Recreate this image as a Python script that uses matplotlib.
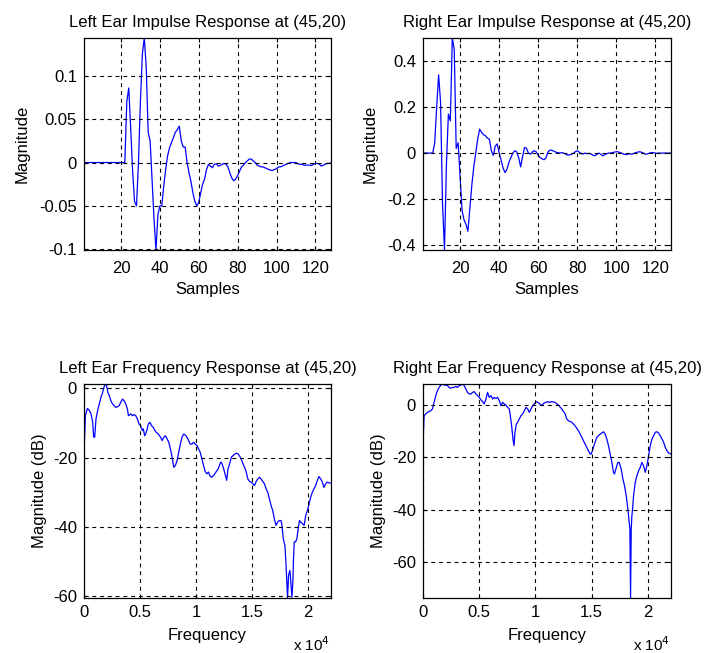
import matplotlib
matplotlib.use("Agg")
import matplotlib.pyplot as plt
from matplotlib.ticker import FuncFormatter

plt.rcParams['font.family'] = ['Liberation Sans', 'DejaVu Sans']
plt.rcParams['axes.unicode_minus'] = False

# impulse responses, samples 1..128
samples = list(range(1, 129))
left_ir = [0.0] * 21 + [
    0.0, 0.07, 0.086, 0.04, -0.01, -0.045, -0.05, 0.0, 0.07, 0.125,
    0.1438, 0.11, 0.035, 0.025, -0.02, -0.065, -0.101, -0.06, -0.05, -0.05,
    -0.027, -0.008, 0.008, 0.017, 0.023, 0.029, 0.035, 0.038, 0.042, 0.025,
    0.018, 0.018, 0.0, -0.012, -0.022, -0.035, -0.045, -0.05, -0.046, -0.035,
    -0.025, -0.019, -0.008, -0.002, -0.004, -0.006, -0.002,
    -0.0015, -0.004, -0.0035, -0.002, -0.001, -0.002, -0.005, -0.012, -0.018, -0.021,
    -0.019, -0.015, -0.01, -0.005, -0.003, 0.0, 0.002, 0.004, 0.004, 0.002,
    0.0, -0.003, -0.004, -0.005, -0.005, -0.006, -0.007, -0.008, -0.009, -0.009,
    -0.008, -0.007, -0.005, -0.005, -0.004, -0.003, -0.002, -0.001, 0.0, 0.0,
    0.0, 0.0, -0.0015, -0.002, -0.002, -0.003, -0.003, -0.003, -0.003, -0.0035,
    -0.002, -0.001, -0.001, -0.002, -0.004, -0.003, -0.002, -0.001, -0.001, -0.0005,
]
right_ir = [0.0] * 6 + [
    0.045, 0.2, 0.34, 0.22, -0.22, -0.422, -0.05, 0.17, 0.14, 0.501,
    0.45, 0.02, 0.045, -0.1, -0.25, -0.29, -0.31, -0.34, -0.24, -0.14,
    -0.06, 0.0, 0.06, 0.104, 0.09, 0.08, 0.075, 0.065, 0.06, 0.01,
    -0.01, 0.03, 0.04, 0.0, -0.03, -0.065, -0.085, -0.07, -0.04, -0.02,
    0.0, 0.01, 0.005, -0.02, -0.06, -0.015, 0.025, 0.02, 0.0, -0.005,
    0.005, 0.01, 0.005, -0.01, -0.02, -0.025, -0.029, -0.02, 0.005, 0.013,
    0.012, 0.008, 0.004, 0.002, 0.0, 0.002, 0.0, -0.004, -0.009, -0.008,
    -0.005, -0.001, 0.006, 0.01, 0.004, -0.002, -0.004, 0.0, -0.003, -0.001,
    -0.004, -0.009, -0.012, -0.006, 0.0, -0.005, -0.012, -0.008, -0.003, 0.0,
    0.0, 0.002, 0.004, 0.006, 0.005, 0.002, -0.002, -0.005, -0.007, -0.004,
    -0.003, -0.005, -0.001, 0.002, 0.004, 0.006, 0.003, -0.001, -0.005, -0.004,
    0.0, 0.002, 0.002, 0.0, -0.001, 0.0, 0.0, 0.0, 0.0, 0.0,
    0.0, 0.0,
]

# frequency responses (Hz, dB)
left_freq = [
    0, 127, 304, 481, 629, 777, 865, 954, 1072, 1220,
    1367, 1515, 1663, 1810, 1899, 2017, 2135, 2253, 2401, 2548,
    2696, 2844, 2991, 3139, 3287, 3434, 3582, 3730, 3877, 3966,
    4173, 4320, 4468, 4616, 4763, 4911, 5059, 5206, 5295, 5413,
    5501, 5649, 5738, 5885, 6033, 6181, 6328, 6446, 6624, 6830,
    6978, 7126, 7273, 7421, 7569, 7716, 7864, 8012, 8159, 8307,
    8455, 8602, 8750, 8898, 9045, 9193, 9341, 9489, 9636, 9784,
    9932, 10079, 10227, 10375, 10522, 10670, 10818, 10965, 11113, 11261,
    11408, 11675, 11970, 12206, 12324, 12472, 12620, 12738, 12856, 13004,
    13152, 13388, 13594, 13742, 13890, 14037, 14185, 14333, 14480, 14628,
    14776, 14923, 15071, 15219, 15366, 15514, 15662, 15809, 15957, 16105,
    16252, 16400, 16548, 16695, 16843, 16991, 17139, 17286, 17434, 17582,
    17670, 17788, 17936, 18024, 18113, 18172, 18261, 18379, 18467, 18556,
    18645, 18704, 18763, 18881, 18999, 19117, 19235, 19353, 19501, 19649,
    19796, 19944, 20092, 20239, 20387, 20535, 20682, 20830, 20978, 21125,
    21273, 21421, 21568, 21716, 21864, 22050,
]
left_db = [
    -18.7, -7.9, -5.8, -6.4, -7.4, -9.8, -14.1, -14.1, -8.8, -6.4,
    -4.5, -2.6, -1.2, 0.6, 1.25, 0.8, -1.2, -2.1, -3.6, -4.5,
    -5.0, -5.5, -5.3, -5.0, -4.0, -3.1, -3.6, -4.5, -6.0, -7.9,
    -7.4, -7.9, -7.6, -7.9, -8.8, -10.3, -10.8, -12.2, -11.7, -13.7,
    -13.2, -11.7, -10.3, -9.8, -10.8, -11.3, -12.2, -12.7, -13.2, -14.1,
    -15.1, -14.1, -13.7, -14.6, -15.6, -17.5, -19.9, -22.8, -22.3, -20.9,
    -18.5, -16.1, -14.1, -13.2, -13.5, -14.1, -15.1, -16.1, -16.1, -15.6,
    -16.1, -16.5, -17.5, -18.5, -20.4, -22.3, -24.0, -24.7, -24.2, -25.4,
    -25.7, -24.7, -23.3, -21.3, -21.8, -23.3, -25.2, -26.6, -23.3, -21.8,
    -19.9, -19.2, -18.75, -18.9, -19.6, -20.4, -21.8, -22.8, -24.2, -26.2,
    -26.9, -27.1, -27.6, -28.1, -26.9, -26.2, -25.7, -26.2, -26.9, -27.6,
    -29.0, -30.0, -31.9, -33.8, -35.3, -37.7, -39.6, -38.7, -38.2, -38.2,
    -39.6, -43.5, -45.4, -50.2, -56.9, -60.6, -54.0, -52.6, -56.0, -60.4,
    -56.0, -49.2, -44.4, -44.4, -43.5, -40.6, -38.2, -38.7, -39.1, -39.6,
    -36.7, -35.3, -33.4, -31.4, -30.0, -29.0, -28.1, -26.6, -25.5, -26.2,
    -27.1, -28.6, -27.6, -27.1, -27.3, -27.4,
]
right_freq = [
    0, 98, 247, 395, 544, 692, 841, 989, 1138, 1286,
    1434, 1583, 1731, 1880, 2028, 2177, 2325, 2474, 2622, 2771,
    2919, 3068, 3217, 3365, 3514, 3662, 3811, 3959, 4108, 4256,
    4405, 4553, 4702, 4850, 4999, 5147, 5296, 5444, 5593, 5741,
    5890, 6038, 6187, 6335, 6484, 6632, 6781, 6929, 7078, 7226,
    7375, 7523, 7672, 7761, 7880, 7999, 8088, 8177, 8296, 8415,
    8563, 8712, 8860, 9009, 9157, 9306, 9454, 9603, 9751, 9900,
    10048, 10197, 10345, 10494, 10642, 10791, 10939, 11088, 11236, 11443,
    11740, 12037, 12334, 12631, 12780, 12928, 13225, 13522, 13819, 14116,
    14413, 14710, 14859, 14948, 15067, 15245, 15453, 15750, 16047, 16196,
    16344, 16493, 16641, 16790, 16938, 17027, 17146, 17324, 17443, 17621,
    17770, 17918, 18067, 18215, 18334, 18394, 18453, 18512, 18572, 18631,
    18720, 18869, 19017, 19166, 19314, 19463, 19611, 19760, 19908, 20057,
    20205, 20354, 20502, 20651, 20799, 20948, 21096, 21245, 21393, 21542,
    21690, 21839, 22050,
]
right_db = [
    -14.5, -4.1, -3.4, -2.8, -2.5, -2.2, -1.5, 1.0, 3.6, 5.5,
    6.7, 7.6, 8.0, 7.6, 7.6, 7.4, 6.7, 6.4, 6.7, 6.7,
    7.1, 6.7, 7.4, 7.6, 8.0, 7.4, 6.1, 4.8, 4.2, 4.2,
    4.8, 5.1, 4.2, 3.6, 2.9, 2.0, 1.3, 0.4, 2.3, 4.8,
    2.9, 3.6, 2.3, 2.9, 2.5, 2.9, 1.7, -0.25, 1.0, 0.4,
    0.0, -0.9, -1.5, -4.1, -7.9, -13.0, -15.5, -10.4, -7.3, -6.6,
    -5.3, -4.1, -3.4, -2.2, -0.9, -1.5, -2.8, -1.5, -0.25, 0.4,
    1.3, 1.0, 0.6, -0.25, 0.25, 0.8, 1.0, 1.3, 1.0, 1.3,
    1.0, 0.0, -1.5, -3.4, -5.3, -6.0, -6.6, -7.9, -9.8, -12.3,
    -14.9, -17.4, -18.7, -18.7, -17.4, -14.9, -12.3, -11.1, -10.2, -11.1,
    -13.0, -15.5, -18.7, -21.9, -25.7, -26.3, -24.4, -21.9, -21.9, -24.4,
    -28.2, -30.8, -34.6, -39.7, -44.8, -47.3, -73.6, -47.3, -42.2, -39.7,
    -34.6, -29.5, -27.0, -25.1, -23.8, -21.9, -23.2, -25.7, -23.2, -19.3,
    -15.5, -13.0, -11.7, -10.4, -10.2, -10.7, -11.7, -13.0, -14.2, -16.2,
    -17.4, -18.3, -18.7,
]

titles = ["Left Ear Impulse Response at (45,20)", "Right Ear Impulse Response at (45,20)",
          "Left Ear Frequency Response at (45,20)", "Right Ear Frequency Response at (45,20)"]
ir_yticks = [[-0.1, -0.05, 0, 0.05, 0.1], [-0.4, -0.2, 0, 0.2, 0.4]]
fr_yticks = [-60, -40, -20, 0]
fr_xticks = [0, 5000, 10000, 15000, 20000]

FS = 12

fig = plt.figure(figsize=(7.07, 6.53), dpi=100)
positions = [[0.1188, 0.617, 0.3494, 0.325], [0.5983, 0.617, 0.3508, 0.325],
             [0.1188, 0.0842, 0.3494, 0.3277], [0.5983, 0.0842, 0.3508, 0.3277]]
axes = [fig.add_axes(p) for p in positions]

fmt = FuncFormatter(lambda v, p: "%g" % v)


def style(ax, title, xpad):
    ax.grid(True, color="black", linestyle=(0, (3.5, 3.5)), linewidth=0.8)
    ax.set_axisbelow(False)
    ax.tick_params(direction="in", length=3, top=True, right=True, labelsize=FS,
                   width=0.8)
    ax.tick_params(axis="x", pad=xpad)
    ax.tick_params(axis="y", pad=5)
    for s in ax.spines.values():
        s.set_linewidth(0.9)
    ax.set_title(title, fontsize=FS, pad=8)
    ax.yaxis.set_major_formatter(fmt)


irs = [left_ir, right_ir]
for i in range(2):
    ax = axes[i]
    ax.plot(samples, irs[i], color="#0000ff", linewidth=0.9)
    ax.set_xlim(1, 128)
    ax.set_ylim(min(irs[i]), max(irs[i]))
    ax.set_xticks([20, 40, 60, 80, 100, 120])
    ax.set_yticks(ir_yticks[i])
    ax.set_xlabel("Samples", fontsize=FS, labelpad=4)
    ax.set_ylabel("Magnitude", fontsize=FS, labelpad=7)
    style(ax, titles[i], 8)

frs = [(left_freq, left_db), (right_freq, right_db)]
for i in range(2):
    ax = axes[i + 2]
    f, db = frs[i]
    ax.plot(f, db, color="#0000ff", linewidth=0.9)
    ax.set_xlim(0, 22050)
    ax.set_ylim(min(db), max(db))
    ax.set_xticks(fr_xticks)
    ax.set_yticks(fr_yticks)
    ax.xaxis.set_major_formatter(FuncFormatter(lambda v, p: "%g" % (v / 1e4)))
    ax.set_xlabel("Frequency", fontsize=FS, labelpad=6)
    ax.set_ylabel("Magnitude (dB)", fontsize=FS, labelpad=4)
    style(ax, titles[i + 2], 5)
    ax.text(0.845, -0.26, r"x 10$^4$", transform=ax.transAxes, fontsize=11,
            ha="left", va="bottom")

fig.savefig("out.png", dpi=100)
